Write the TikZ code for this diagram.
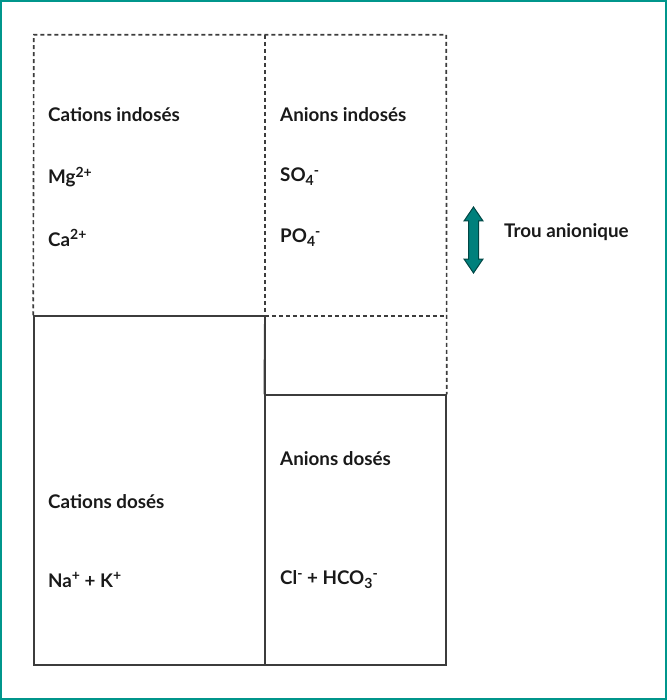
\documentclass[tikz,border=0pt]{standalone}
\usepackage{fontspec}
\setmainfont{Lato}
\definecolor{bordteal}{RGB}{0,150,140}
\definecolor{arrteal}{RGB}{0,128,124}
\definecolor{arrdark}{RGB}{0,70,68}
\definecolor{linegray}{RGB}{60,60,60}
\newcommand\ionsup[1]{\raisebox{6.5pt}{\fontsize{14}{14}\selectfont #1}}
\newcommand\ionsub[1]{\raisebox{-4pt}{\fontsize{14}{14}\selectfont #1}}

\begin{document}
\begin{tikzpicture}
     [
     x=1pt, y=-1pt,
     zone/.style={rectangle, inner sep=0pt, minimum height=281pt},
     solidbox/.style={rectangle, draw=linegray, line width=1.5pt, inner sep=0pt},
     dashline/.style={draw=linegray, line width=1.6pt, dash pattern=on 4pt off 3pt},
     txt/.style={anchor=west, inner sep=0pt, text=black!90, font=\fontsize{18.8}{22}\selectfont\bfseries},
     trouarrow/.style={draw=arrdark, fill=arrteal, line width=1pt, line join=miter},
     ]
 \useasboundingbox (0,0) rectangle (667,700);
 \draw[bordteal, line width=2pt] (1,1) rectangle (666,699);
 % zones indosees (pointilles)
 \node at (149.5,175.5) [zone, minimum width=231pt] (catind) {};
 \node at (355.5,175.5) [zone, minimum width=181pt] (anind) {};
 % boites pleines
 \node at (149.5,490.5) [solidbox, minimum width=231pt, minimum height=349pt] (catdos) {};
 \node at (355.5,530) [solidbox, minimum width=181pt, minimum height=270pt] (andos) {};
 \draw[dashline] (catdos.north west) -- (catind.north west) -- (anind.north east) -- (andos.north east);
 \draw[dashline] (anind.north west) -- (anind.south west);
 \draw[dashline] (anind.south west) -- (anind.south east);
 \draw[solidbox] (anind.south west) -- (andos.north west);
 % textes
 \node at (48,115) [txt] (tcatind) {Cations indosés};
 \node at (48,177) [txt] (tmg) {Mg\ionsup{2+}};
 \node at (48,238) [txt] (tca) {Ca\ionsup{2+}};
 \node at (280,115) [txt] (tanind) {Anions indosés};
 \node at (280,177) [txt] (tso) {SO\ionsub{4}\ionsup{-}};
 \node at (280,238) [txt] (tpo) {PO\ionsub{4}\ionsup{-}};
 \node at (280,459) [txt] (tandos) {Anions dosés};
 \node at (48,502) [txt] (tcatdos) {Cations dosés};
 \node at (48,580) [txt] (tnak) {Na\ionsup{+} + K\ionsup{+}};
 \node at (280,580) [txt] (tclhco) {Cl\ionsup{-} + HCO\ionsub{3}\ionsup{-}};
 % trou anionique
 \coordinate (trou) at (473.5,240);
 \draw[trouarrow] (trou) ++(0,-33) -- ++(9.5,14) -- ++(-4.5,0) -- ++(0,38) -- ++(4.5,0)
   -- ++(-9.5,14) -- ++(-9.5,-14) -- ++(4.5,0) -- ++(0,-38) -- ++(-4.5,0) -- cycle;
 \node at (504,232) [txt] (ttrou) {Trou anionique};
 \end{tikzpicture}
\end{document}
